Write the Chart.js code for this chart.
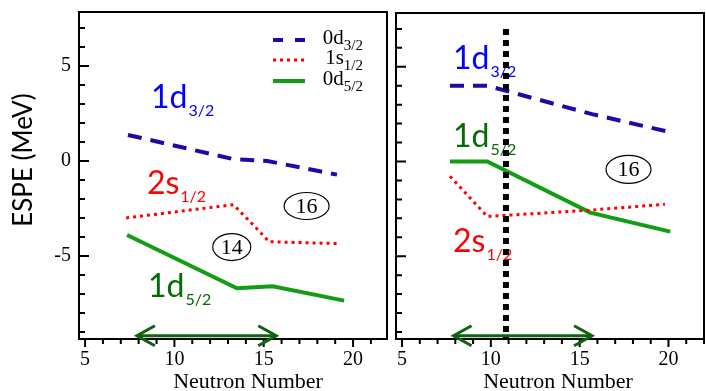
<!DOCTYPE html>
<html>
<head>
<meta charset="utf-8">
<script src="https://cdn.jsdelivr.net/npm/chart.js@4.4.1/dist/chart.umd.min.js"></script>
<style>
  html, body { margin:0; padding:0; background:#fff; }
  body { width:706px; height:391px; position:relative; overflow:hidden; }
  #left { position:absolute; left:0; top:0; }
  #right { position:absolute; left:392px; top:0; }
</style>
</head>
<body>
<canvas id="left" width="392" height="391"></canvas>
<canvas id="right" width="314" height="391"></canvas>
<script>
// ---------- Data ----------
const xTickValues = [5, 10, 15, 20];
const yTickValues = [-5, 0, 5];
const legendMain = ['0d', '1s', '0d'];
const legendSub = ['3/2', '1/2', '5/2'];

// left panel
const leftD32X = [7.4, 13.3, 15.2, 19.1];
const leftD32Y = [1.37, 0.1, 0.0, -0.72];
const leftS12X = [7.3, 13.3, 14.5, 15.3, 19.2];
const leftS12Y = [-3.0, -2.3, -3.45, -4.25, -4.35];
const leftD52X = [7.35, 13.5, 15.5, 19.5];
const leftD52Y = [-3.9, -6.7, -6.6, -7.35];

// right panel
const rightD32X = [7.7, 9.8, 15.7, 20.2];
const rightD32Y = [4.0, 4.0, 2.5, 1.53];
const rightS12X = [7.7, 9.8, 15.4, 19.8];
const rightS12Y = [-0.78, -2.9, -2.58, -2.26];
const rightD52X = [7.7, 9.8, 15.6, 20.1];
const rightD52Y = [0, 0, -2.7, -3.7];

// N = 11 marker and the range arrow
const gapLineX = [10.85, 10.85];
const gapLineY = [7.0, -9.37];
const arrowX = [7.9, 15.7];
const arrowY = [-9.2, -9.2];

// ---------- Styles ----------
const BLUE_LINE = '#1f08a8', RED = '#ff0000', GREEN_LINE = '#149c14';
const BLUE_TXT = '#0000ff', GREEN_TXT = '#046c04', ARROW = '#0e640e';
const SERIF = '"Liberation Serif", "Times New Roman", serif';
const SANS = 'Lato, "Open Sans", sans-serif';

function pts(xs, ys){ return xs.map((x,i)=>({x, y: ys[i]})); }

function lineDs(label, xs, ys, color, width, dash){
  return { label, data: pts(xs, ys), borderColor: color, borderWidth: width,
           borderDash: dash, borderCapStyle: 'butt', pointRadius: 0, fill: false, tension: 0 };
}

function panelSets(d32x, d32y, s12x, s12y, d52x, d52y, withGap){
  const sets = [];
  if(withGap) sets.push(lineDs('N=11', gapLineX, gapLineY, '#000', 6, [6,5]));
  sets.push(lineDs('0d3/2', d32x, d32y, BLUE_LINE, 4, [14,9]));
  sets.push(lineDs('1s1/2', s12x, s12y, RED, 3, [3,4]));
  sets.push(lineDs('0d5/2', d52x, d52y, GREEN_LINE, 4, []));
  sets.push(lineDs('range', arrowX, arrowY, ARROW, 3, []));
  return sets;
}

// ---------- Decorations (labels, frame, inner ticks, legend) ----------
const panelDecor = {
  id: 'panelDecor',
  beforeDatasetsDraw(chart, args, o){
    const {ctx, scales:{x, y}} = chart;
    ctx.save();
    (o.labels || []).forEach(l => {
      const px = x.getPixelForValue(l.x), py = y.getPixelForValue(l.y);
      ctx.fillStyle = l.color;
      ctx.textAlign = 'left'; ctx.textBaseline = 'alphabetic';
      ctx.font = '32px ' + SANS;
      ctx.fillText(l.main, px, py);
      const w = ctx.measureText(l.main).width;
      ctx.font = '16px ' + SANS;
      ctx.fillText(l.sub, px + w + 1, py + 8);
    });
    (o.circles || []).forEach(c => {
      const px = x.getPixelForValue(c.x), py = y.getPixelForValue(c.y);
      ctx.beginPath();
      ctx.ellipse(px, py, c.w/2, c.h/2, 0, 0, Math.PI*2);
      ctx.strokeStyle = '#000'; ctx.lineWidth = 1.2; ctx.stroke();
      ctx.fillStyle = '#000';
      ctx.font = '22px ' + SERIF;
      ctx.textAlign = 'center'; ctx.textBaseline = 'middle';
      ctx.fillText(c.text, px, py + 1);
    });
    ctx.restore();
  },
  afterDraw(chart, args, o){
    const {ctx, chartArea:a, scales:{x, y}} = chart;
    ctx.save();
    // frame
    ctx.strokeStyle = '#000'; ctx.lineWidth = 2;
    ctx.strokeRect(a.left, a.top, a.right - a.left, a.bottom - a.top);
    // ticks: y inside, x outside
    ctx.beginPath();
    for(let v = Math.ceil(y.min); v <= Math.floor(y.max); v++){
      const py = y.getPixelForValue(v);
      const len = v % 5 === 0 ? 10 : 6;
      ctx.moveTo(a.left, py); ctx.lineTo(a.left + len, py);
    }
    for(let v = Math.ceil(x.min); v <= Math.floor(x.max); v++){
      const px = x.getPixelForValue(v);
      const len = v % 5 === 0 ? 8 : 5;
      ctx.moveTo(px, a.bottom); ctx.lineTo(px, a.bottom + len);
    }
    ctx.stroke();

    // arrow heads
    const ax0 = x.getPixelForValue(arrowX[0]), ax1 = x.getPixelForValue(arrowX[1]);
    const ay = y.getPixelForValue(arrowY[0]);
    ctx.strokeStyle = ARROW; ctx.lineWidth = 3; ctx.lineCap = 'butt';
    ctx.beginPath();
    ctx.moveTo(ax0 + 18, ay - 10); ctx.lineTo(ax0, ay); ctx.lineTo(ax0 + 18, ay + 10);
    ctx.moveTo(ax1 - 18, ay - 10); ctx.lineTo(ax1, ay); ctx.lineTo(ax1 - 18, ay + 10);
    ctx.stroke();

    // legend
    if(o.legend){
      const L = o.legend;
      const sets = chart.data.datasets.filter(d => d.label !== 'range' && d.label !== 'N=11');
      sets.forEach((d, i) => {
        const ry = L.rows[i];
        ctx.strokeStyle = d.borderColor; ctx.lineWidth = d.borderWidth;
        ctx.setLineDash(i === 0 ? [10,12] : d.borderDash);
        ctx.beginPath(); ctx.moveTo(L.x0, ry); ctx.lineTo(L.x1, ry); ctx.stroke();
        ctx.setLineDash([]);
        ctx.fillStyle = '#000'; ctx.textAlign = 'left'; ctx.textBaseline = 'alphabetic';
        ctx.font = '15px ' + SERIF;
        const ws = ctx.measureText(legendSub[i]).width;
        ctx.font = '21px ' + SERIF;
        const wm = ctx.measureText(legendMain[i]).width;
        const tx = L.textRight - ws - wm;
        ctx.fillText(legendMain[i], tx, ry + 4);
        ctx.font = '15px ' + SERIF;
        ctx.fillText(legendSub[i], tx + wm, ry + 10);
      });
    }

    // axis titles
    ctx.fillStyle = '#000';
    ctx.textAlign = 'center'; ctx.textBaseline = 'middle';
    ctx.font = '22px ' + SERIF;
    ctx.fillText('Neutron Number', o.xTitleX, 382);
    if(o.yTitle){
      ctx.translate(24, 160);
      ctx.rotate(-Math.PI/2);
      ctx.font = '26px ' + SANS;
      ctx.fillText('ESPE (MeV)', 0, 0);
    }
    ctx.restore();
  }
};

// ---------- Charts ----------
function makeChart(id, datasets, xMax, notes, showY, padding){
  return new Chart(document.getElementById(id), {
    type: 'line',
    data: { datasets },
    options: {
      responsive: false,
      animation: false,
      layout: { padding },
      plugins: { legend: { display: false }, tooltip: { enabled: false }, panelDecor: notes },
      scales: {
        x: {
          type: 'linear', min: 4.66, max: xMax,
          grid: { display: false, drawTicks: false }, border: { display: false },
          ticks: { font: { family: SERIF, size: 20 }, color: '#000', padding: 9, maxRotation: 0 },
          afterBuildTicks: s => { s.ticks = xTickValues.map(v => ({ value: v })); },
          afterFit: s => { s.height = 52; s.paddingLeft = 0; s.paddingRight = 0; }
        },
        y: {
          type: 'linear', min: -9.37, max: 7.84, display: showY,
          grid: { display: false, drawTicks: false }, border: { display: false },
          ticks: { font: { family: SERIF, size: 20 }, color: '#000', padding: 8 },
          afterBuildTicks: s => { s.ticks = yTickValues.map(v => ({ value: v })); },
          afterFit: s => { s.width = showY ? 79 : 0; s.paddingTop = 0; s.paddingBottom = 0; }
        }
      }
    },
    plugins: [panelDecor]
  });
}

makeChart('left',
  panelSets(leftD32X, leftD32Y, leftS12X, leftS12Y, leftD52X, leftD52Y, false),
  21.9,
  {
    labels: [
      { main: '1d', sub: '3/2', x: 8.69, y: 2.79, color: BLUE_TXT },
      { main: '2s', sub: '1/2', x: 8.46, y: -1.74, color: RED },
      { main: '1d', sub: '5/2', x: 8.52, y: -7.16, color: GREEN_TXT }
    ],
    circles: [
      { text: '14', x: 13.21, y: -4.53, w: 38, h: 27 },
      { text: '16', x: 17.4, y: -2.37, w: 45, h: 27 }
    ],
    legend: { x0: 273, x1: 305, rows: [40, 60, 81], textRight: 363 },
    xTitleX: 248,
    yTitle: true
  },
  true,
  { left: 0, top: 12, right: 5, bottom: 0 }
);

makeChart('right',
  panelSets(rightD32X, rightD32Y, rightS12X, rightS12Y, rightD52X, rightD52Y, true),
  22.0,
  {
    labels: [
      { main: '1d', sub: '3/2', x: 7.87, y: 4.89, color: BLUE_TXT },
      { main: '1d', sub: '5/2', x: 7.87, y: 0.74, color: GREEN_TXT },
      { main: '2s', sub: '1/2', x: 7.87, y: -4.79, color: RED }
    ],
    circles: [
      { text: '16', x: 17.75, y: -0.42, w: 45, h: 28 }
    ],
    legend: null,
    xTitleX: 166,
    yTitle: false
  },
  false,
  { left: 4, top: 13, right: 2, bottom: 0 }
);
</script>
</body>
</html>
